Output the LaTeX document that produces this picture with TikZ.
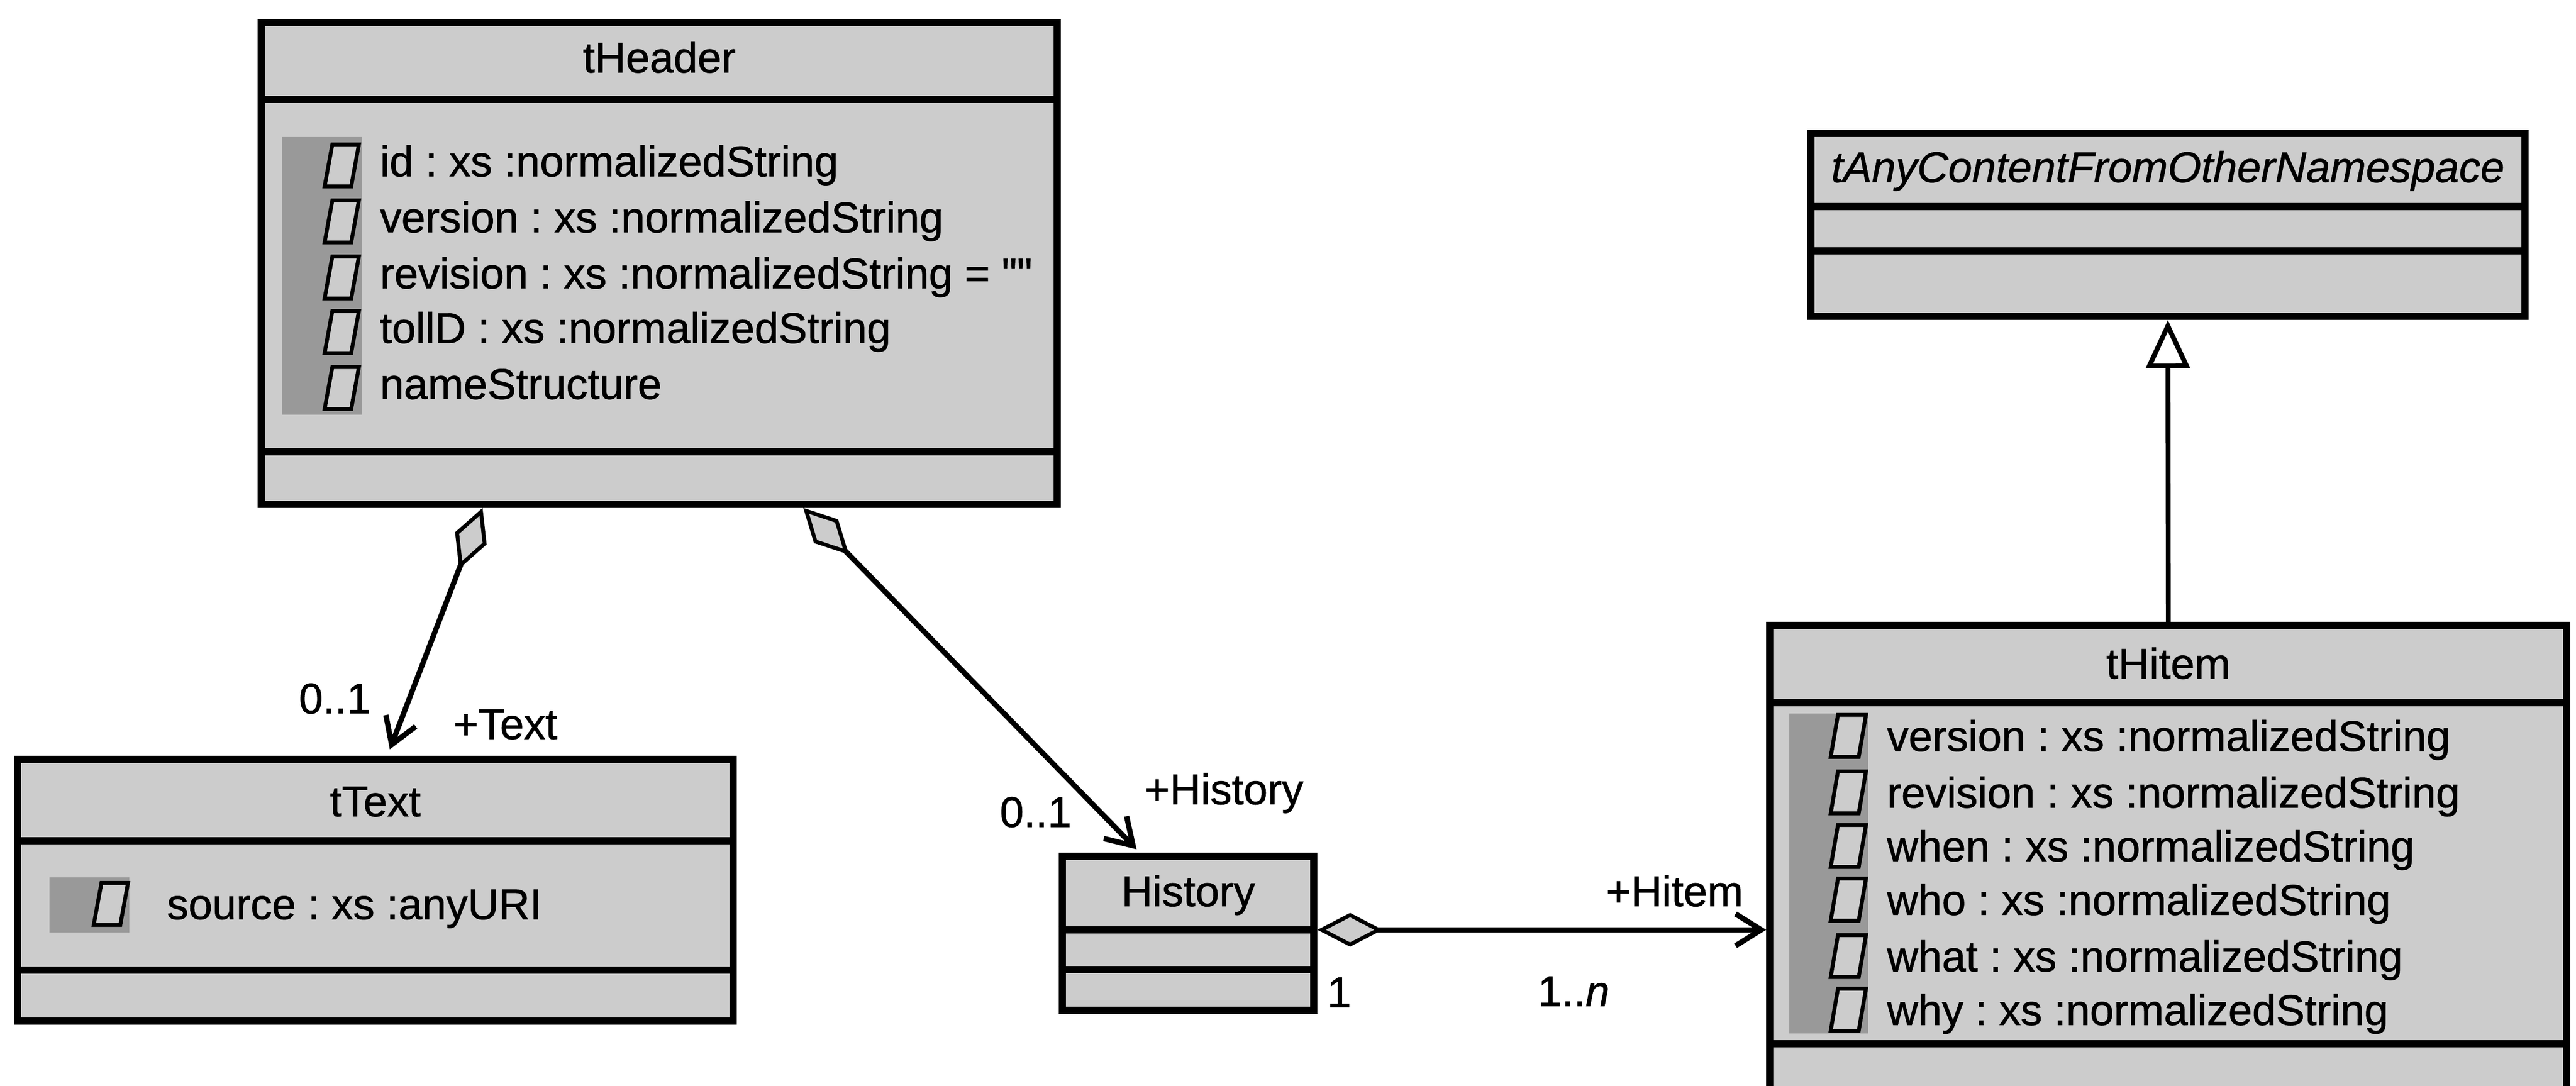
\documentclass[tikz,border=0pt]{standalone}
\usepackage{fontspec}
\setmainfont{Liberation Sans}[Ligatures=TeXOff, FakeBold=1]
\usetikzlibrary{arrows.meta}
\definecolor{boxgray}{gray}{0.8}
\definecolor{bargray}{gray}{0.6}
\frenchspacing

\begin{document}
\begin{tikzpicture}[
  every node/.style={inner sep=0pt, font=\fontsize{25.3}{30}\selectfont},
  classbox/.style={draw, fill=boxgray, line width=0.15cm},
  sepline/.style={line width=0.15cm},
  propicon/.style={draw, fill=boxgray, line width=0.08cm},
  aggr/.style={line width=0.11cm, arrows={Diamond[fill=boxgray,line width=0.08cm,length=1.35cm,width=0.7cm]-Straight Barb[length=0.53cm,width=0.66cm]}},
  gen/.style={line width=0.1cm, -{Triangle[fill=white,line width=0.1cm,length=1cm,width=0.9cm]}}
]
\clip (0,0) rectangle (53.33,-22.48);

% class boxes
\node[classbox, minimum width=16.48cm, minimum height=9.97cm] (header) at (13.65,-5.455) {};
\node[classbox, minimum width=14.82cm, minimum height=5.42cm] (text) at (7.77,-18.43) {};
\node[classbox, minimum width=5.21cm, minimum height=3.19cm] (history) at (24.595,-19.325) {};
\node[classbox, minimum width=14.78cm, minimum height=3.79cm] (anycontent) at (44.88,-4.655) {};
\node[classbox, minimum width=16.50cm, minimum height=11.05cm] (hitem) at (44.89,-18.475) {};

% compartments
\draw[sepline] (header.west |- 0,-2.06) -- (header.east |- 0,-2.06);
\draw[sepline] (header.west |- 0,-9.35) -- (header.east |- 0,-9.35);
\draw[sepline] (text.west |- 0,-17.41) -- (text.east |- 0,-17.41);
\draw[sepline] (text.west |- 0,-20.08) -- (text.east |- 0,-20.08);
\draw[sepline] (history.west |- 0,-19.25) -- (history.east |- 0,-19.25);
\draw[sepline] (history.west |- 0,-20.07) -- (history.east |- 0,-20.07);
\draw[sepline] (anycontent.west |- 0,-4.28) -- (anycontent.east |- 0,-4.28);
\draw[sepline] (anycontent.west |- 0,-5.19) -- (anycontent.east |- 0,-5.19);
\draw[sepline] (hitem.west |- 0,-14.55) -- (hitem.east |- 0,-14.55);
\draw[sepline] (hitem.west |- 0,-21.61) -- (hitem.east |- 0,-21.61);

% titles
\node[anchor=base] (headername) at (13.65,-1.50) {tHeader};
\node[anchor=base] (textname) at (7.77,-16.90) {tText};
\node[anchor=base] (historyname) at (24.60,-18.76) {History};
\node[anchor=base] (anycontentname) at (44.88,-3.77) {\itshape tAnyContentFromOtherNamespace};
\node[anchor=base] (hitemname) at (44.89,-14.05) {tHitem};

% attribute bars and icons
\fill[bargray] (5.83,-2.84) rectangle (7.49,-8.59);
\fill[bargray] (1.02,-18.16) rectangle (2.68,-19.31);
\fill[bargray] (37.04,-14.77) rectangle (38.67,-21.40);
\foreach \y in {-3.65,-4.81,-5.97,-7.10,-8.26}
  \draw[propicon] (6.72,\y-0.21) -- ++(0.16,0.87) -- ++(0.55,0) -- ++(-0.16,-0.87) -- cycle;
\draw[propicon] (1.94,-19.15) -- ++(0.16,0.87) -- ++(0.55,0) -- ++(-0.16,-0.87) -- cycle;
\foreach \y in {-15.55,-16.72,-17.83,-18.94,-20.11,-21.22}
  \draw[propicon] (37.90,\y-0.12) -- ++(0.15,0.87) -- ++(0.58,0) -- ++(-0.15,-0.87) -- cycle;

% attributes
\node[anchor=base west] (hid) at (7.86,-3.65) {id : xs :normalizedString};
\node[anchor=base west] (hversion) at (7.86,-4.81) {version : xs :normalizedString};
\node[anchor=base west] (hrevision) at (7.86,-5.97) {revision : xs :normalizedString = ""};
\node[anchor=base west] (htollid) at (7.86,-7.10) {tollD : xs :normalizedString};
\node[anchor=base west] (hname) at (7.86,-8.26) {nameStructure};
\node[anchor=base west] (tsource) at (3.45,-19.03) {source : xs :anyURI};
\node[anchor=base west] (iversion) at (39.06,-15.55) {version : xs :normalizedString};
\node[anchor=base west] (irevision) at (39.06,-16.72) {revision : xs :normalizedString};
\node[anchor=base west] (iwhen) at (39.06,-17.83) {when : xs :normalizedString};
\node[anchor=base west] (iwho) at (39.06,-18.94) {who : xs :normalizedString};
\node[anchor=base west] (iwhat) at (39.06,-20.11) {what : xs :normalizedString};
\node[anchor=base west] (iwhy) at (39.06,-21.22) {why : xs :normalizedString};

% associations
\draw[aggr, shorten >=0.14cm] (9.99,0 |- header.south) -- (8.02,0 |- text.north);
\draw[aggr, shorten >=0.1cm] (16.63,0 |- header.south) -- (23.60,0 |- history.north);
\draw[aggr] (history.east |- 0,-19.25) -- (hitem.west |- 0,-19.25);
\draw[gen] (hitem.north) -- (anycontent.south);

% role names and multiplicities
\node[anchor=base east] (textmult) at (7.68,-14.77) {0..1};
\node[anchor=base west] (textrole) at (9.38,-15.30) {+Text};
\node[anchor=base east] (historymult) at (22.19,-17.12) {0..1};
\node[anchor=base west] (historyrole) at (23.69,-16.65) {+History};
\node[anchor=base west] (hitemrole) at (33.24,-18.76) {+Hitem};
\node[anchor=base west] (historyone) at (27.47,-20.85) {1};
\node[anchor=base west] (hitemmult) at (31.83,-20.83) {1..\textit{n}};
\end{tikzpicture}
\end{document}
